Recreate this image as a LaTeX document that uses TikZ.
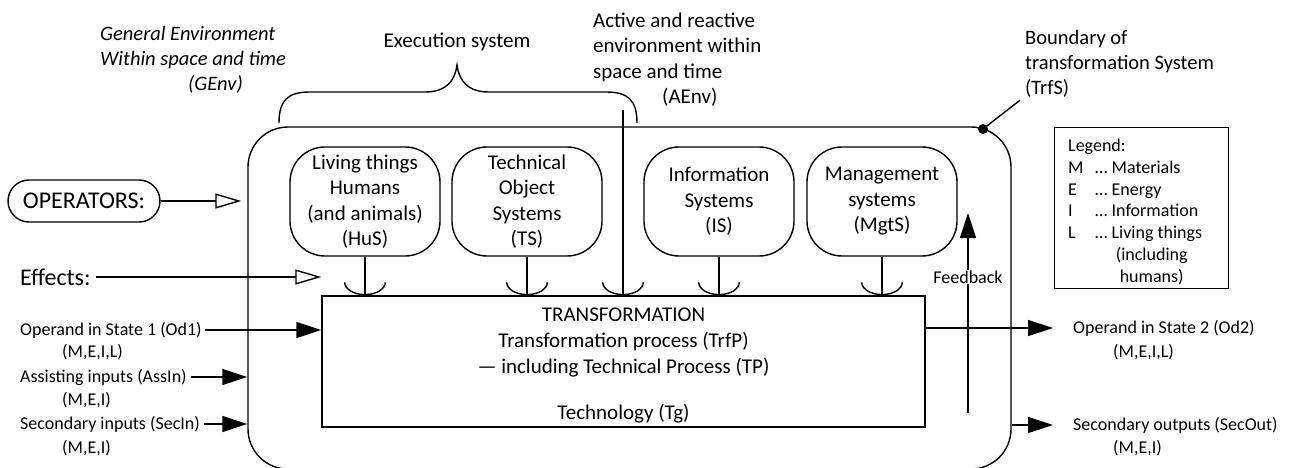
\documentclass[tikz,border=0pt]{standalone}
\usepackage{fontspec}
\setmainfont{Carlito}
\usetikzlibrary{arrows.meta,positioning}

\tikzset{
  txt/.style={inner sep=0pt, font=\fontsize{18}{21.8}\selectfont},
  midtxt/.style={inner sep=0pt, font=\fontsize{20.5}{25}\selectfont},
  boxtxt/.style={font=\fontsize{21}{25.5}\selectfont},
  bigtxt/.style={font=\fontsize{24}{29}\selectfont},
  sysnode/.style={draw, line width=1.4pt, rounded corners=35pt, minimum width=150pt, minimum height=109pt, align=center, boxtxt, inner sep=2pt},
  cup/.style={-{Arc Barb[width=42pt,length=13pt]}, line width=1.4pt},
  solidarrow/.style={-{Triangle[length=25pt,width=16pt]}, line width=1.4pt},
  openarrow/.style={-{Triangle[open,length=26pt,width=15pt]}, line width=1.4pt},
}

\begin{document}
\begin{tikzpicture}[x=1pt, y=-1pt]
    \useasboundingbox (0,0) rectangle (1291,468);

    % Boundary of the transformation system
    \node[draw, line width=1.4pt, rounded corners=40pt, minimum width=763pt, minimum height=342pt] (trfs) at (629.5,298) {};
    \coordinate (bdot) at (983,129);
    \fill (bdot) circle (5pt);

    % Execution systems
    \node[sysnode] (hus) at (365,201.5) {Living things\\Humans\\(and animals)\\(HuS)};
    \node[sysnode] (ts) at (527,201.5) {Technical\\Object\\Systems\\(TS)};
    \node[sysnode] (is) at (719,201.5) {Information\\Systems\\(IS)};
    \node[sysnode] (mgts) at (882,201.5) {Management\\systems\\(MgtS)};

    % Transformation process
    \node[draw, line width=1.4pt, minimum width=603pt, minimum height=131pt] (trfp) at (623.5,361.5) {};
    \node[boxtxt, align=center, font=\fontsize{21}{26}\selectfont] (trftxt) at ([yshift=-4pt]trfp.center)
        {TRANSFORMATION\\Transformation process (TrfP)\\--- including Technical Process (TP)\\[20pt]Technology (Tg)};

    \foreach \n in {hus,ts,is,mgts}
        \draw[cup] (\n.south) -- (\n.south |- trfp.north);

    % Texts on top
    \node[midtxt, anchor=west, align=left, font=\fontsize{20.5}{25}\itshape] (genv) at (100,60)
        {General Environment\\Within space and time\\\hspace*{88pt}(GEnv)};
    \node[boxtxt, inner sep=0pt] (exec) at (457,42) {Execution system};
    \node[boxtxt, inner sep=0pt, anchor=west, align=left] (aenv) at (593,59.5)
        {Active and reactive\\environment within\\space and time\\\hspace*{69pt}(AEnv)};
    \node[midtxt, anchor=west, align=left] (bnd) at (1025,63.5)
        {Boundary of\\transformation System\\(TrfS)};
    \draw[line width=1.4pt] (bdot) -- ([xshift=-5pt,yshift=-3pt]bnd.south west);

    % Brace over the execution system
    \draw[line width=1.4pt] (279,123) .. controls (279,100) and (288,92) .. (310,92) -- (425,92)
        .. controls (447,92) and (455,80) .. (457,65) .. controls (459,80) and (467,92) .. (489,92)
        -- (606,92) .. controls (628,92) and (637,100) .. (637,123);

    % Active environment
    \coordinate (aenvtop) at (623,110);
    \draw[cup] (aenvtop) -- (aenvtop |- trfp.north);

    % Legend
    \node[draw, line width=1.4pt, minimum width=174pt, minimum height=161pt, anchor=north west] (legend) at (1054,127) {};
    \node[txt, anchor=north west] (legtxt) at (1068,136) {%
        \begin{tabular}{@{}l@{\hspace{11.6pt}}l@{}}
        \multicolumn{2}{@{}l}{Legend:}\\
        M & … Materials\\
        E & … Energy\\
        I & … Information\\
        L & … Living things\\
          & \multicolumn{1}{c@{}}{(including}\\
          & \multicolumn{1}{c@{}}{humans)}
        \end{tabular}};

    % Operators and effects
    \node[bigtxt, draw, line width=1.4pt, rounded corners=21pt, minimum width=152pt, minimum height=42pt, inner sep=0pt] (oper) at (84,201) {OPERATORS:};
    \draw[openarrow, shorten >=6pt] (oper.east) -- (oper.east -| trfs.west);
    \node[bigtxt, inner sep=0pt, anchor=west] (eff) at (20,277) {Effects:};
    \draw[openarrow, shorten <=5pt] (eff.east) -- (eff.east -| trfp.west);

    % Inputs
    \node[txt, anchor=west] (od1) at (20,330) {Operand in State 1 (Od1)};
    \node[txt, anchor=west] (od1m) at (62,352) {(M,E,I,L)};
    \draw[solidarrow, shorten <=3pt] (od1.east) -- (od1.east -| trfp.west);
    \node[txt, anchor=west] (assin) at (20,377) {Assisting inputs (AssIn)};
    \node[txt, anchor=west] (assinm) at (62,400) {(M,E,I)};
    \draw[solidarrow, shorten <=4pt] (assin.east) -- (assin.east -| trfs.west);
    \node[txt, anchor=west] (secin) at (20,424) {Secondary inputs (SecIn)};
    \node[txt, anchor=west] (secinm) at (62,448) {(M,E,I)};
    \draw[solidarrow, shorten <=4pt] (secin.east) -- (secin.east -| trfs.west);

    % Outputs
    \node[txt, anchor=west] (od2) at (1073,328) {Operand in State 2 (Od2)};
    \node[txt, anchor=west] (od2m) at (1113,352) {(M,E,I,L)};
    \draw[solidarrow, shorten >=20pt] (od2.west -| trfp.east) -- (od2.west);
    \node[txt, anchor=west] (secout) at (1073,425) {Secondary outputs (SecOut)};
    \node[txt, anchor=west] (secoutm) at (1113,448) {(M,E,I)};
    \draw[solidarrow, shorten >=20pt] (secout.west -| trfs.east) -- (secout.west);

    % Feedback
    \coordinate (fbbot) at (968,413);
    \coordinate (fbtop) at (968,213);
    \draw[solidarrow] (fbbot) -- (fbtop) node[pos=0.68, txt, fill=white, inner sep=1pt] (fb) {Feedback};
\end{tikzpicture}
\end{document}
